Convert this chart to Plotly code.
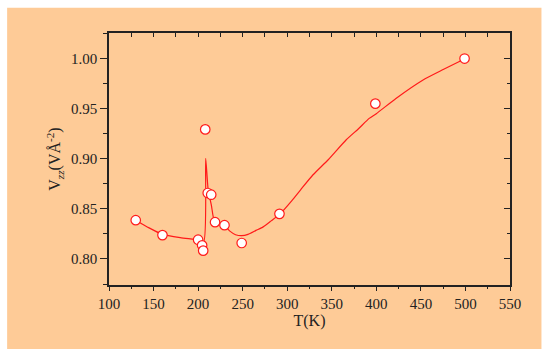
import plotly.graph_objects as go

# Measured points
T_pts = [130, 160, 200, 204.5, 205.7, 208, 210.8, 214.7, 219, 229.6, 248.9, 291.3, 398.9, 499]
V_pts = [0.8387, 0.8238, 0.8192, 0.8136, 0.8083, 0.9293, 0.8658, 0.8641, 0.8367, 0.8337, 0.8159, 0.8450, 0.9550, 1.0000]

# Fit curve
T_fit = [130, 145, 160, 180, 200, 206.3, 208.5, 211.3, 215, 218, 224, 230, 236, 242, 249, 256, 265,
         273, 282, 292, 305, 315, 329, 346, 366, 380, 392, 400, 422, 452, 475, 500]
V_fit = [0.8387, 0.8310, 0.8245, 0.8212, 0.8190, 0.8175, 0.9005, 0.8690, 0.8530, 0.8390, 0.8355,
         0.8330, 0.8275, 0.8242, 0.8232, 0.8245, 0.8285, 0.8320, 0.8380, 0.8450, 0.8580, 0.8690,
         0.8840, 0.8990, 0.9187, 0.9300, 0.9403, 0.9450, 0.9602, 0.9784, 0.9890, 1.0000]

x_ticks = [100, 150, 200, 250, 300, 350, 400, 450, 500, 550]
y_ticks = [0.80, 0.85, 0.90, 0.95, 1.00]

BG = "#FECB97"
RED = "#FF1A1A"
FONT = "Liberation Serif"

fig = go.Figure()
fig.add_trace(go.Scatter(x=T_fit, y=V_fit, mode="lines",
                         line=dict(color=RED, width=1.2, shape="spline", smoothing=0.6),
                         hoverinfo="skip", showlegend=False))
fig.add_trace(go.Scatter(x=T_pts, y=V_pts, mode="markers",
                         marker=dict(symbol="circle", size=9.5, color="white",
                                     line=dict(color=RED, width=1.2)),
                         showlegend=False))
# helper trace for mirrored (inside-tick) axes
fig.add_trace(go.Scatter(x=[None], y=[None], xaxis="x2", yaxis="y2", showlegend=False,
                         hoverinfo="skip"))

xr = [100, 550]
yr = [0.774, 1.0255]

fig.update_layout(
    width=549, height=349,
    margin=dict(l=109, r=38.5, t=32.7, b=63.7),
    paper_bgcolor="white",
    plot_bgcolor="rgba(0,0,0,0)",
    font=dict(family=FONT, size=15, color="#222"),
    shapes=[dict(type="rect", xref="paper", yref="paper", x0=-102/401.5, x1=(542-109)/401.5,
                 y0=-0.4, y1=1 + (32.7-7.3)/252.6,
                 fillcolor=BG, line=dict(width=0), layer="below")],
    xaxis=dict(range=xr, tickvals=x_ticks, ticks="outside", ticklen=4, tickwidth=1.2,
               tickcolor="#222", showline=True, linecolor="#222", linewidth=1.5,
               showgrid=False, zeroline=False,
               minor=dict(dtick=25, ticks="outside", ticklen=2.5, tickwidth=1.2, tickcolor="#222"),
               title=dict(text="T(K)", font=dict(size=16), standoff=4)),
    yaxis=dict(range=yr, tickvals=y_ticks, tickformat=".2f", ticks="outside", ticklen=7,
               tickwidth=1.2, tickcolor="#222", showline=True, linecolor="#222", linewidth=1.5,
               showgrid=False, zeroline=False,
               minor=dict(dtick=0.025, tick0=0.8, ticks="outside", ticklen=4, tickwidth=1.2,
                          tickcolor="#222"),
               title=dict(text="V<sub><i>zz</i></sub>(VÅ<sup>-2</sup>)", font=dict(size=16),
                          standoff=6)),
    xaxis2=dict(range=xr, overlaying="x", side="top", anchor="y2", showticklabels=False,
                ticks="inside", tickvals=x_ticks, ticklen=4, tickwidth=1.2, tickcolor="#222",
                minor=dict(dtick=25, ticks="inside", ticklen=4, tickwidth=1.2, tickcolor="#222"),
                showline=True, linecolor="#222", linewidth=1.5, showgrid=False, zeroline=False),
    yaxis2=dict(range=yr, overlaying="y", side="right", anchor="x2", showticklabels=False,
                ticks="inside", tickvals=y_ticks, ticklen=6, tickwidth=1.2, tickcolor="#222",
                minor=dict(dtick=0.025, tick0=0.8, ticks="inside", ticklen=3, tickwidth=1.2,
                           tickcolor="#222"),
                showline=True, linecolor="#222", linewidth=1.5, showgrid=False, zeroline=False),
)

fig.write_html("out.html", config={"displayModeBar": False},
               post_script="document.body.style.margin='0';")
